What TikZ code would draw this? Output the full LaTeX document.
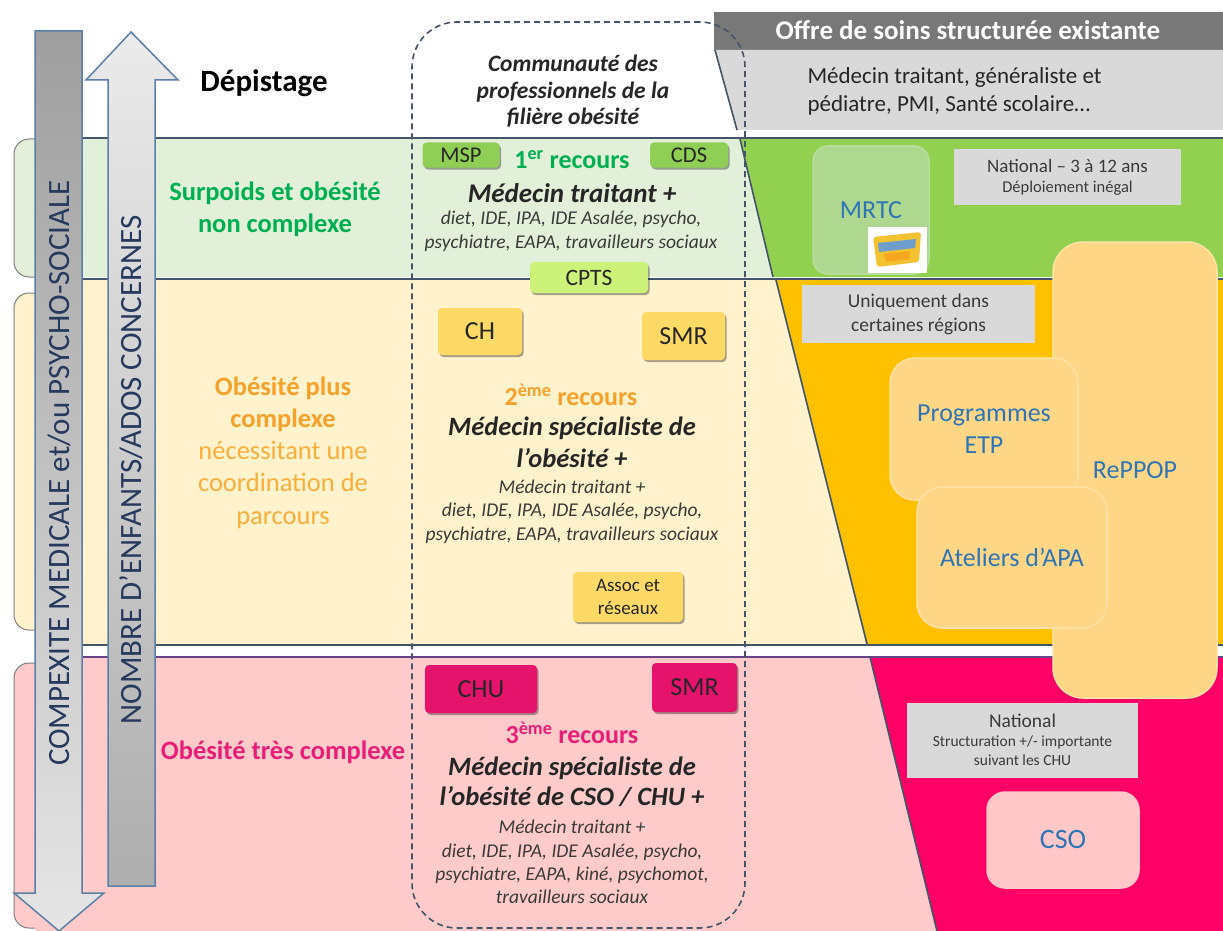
\documentclass[tikz,border=0pt]{standalone}
\usepackage{fontspec}
\setmainfont{Carlito}
\usetikzlibrary{shadows}
\definecolor{hdr}{HTML}{787878}
\definecolor{infogray}{HTML}{D9D9D9}
\definecolor{txtdark}{HTML}{262626}
\definecolor{txtgray}{HTML}{3A3A3A}
\definecolor{lgreen}{HTML}{E2F0D9}
\definecolor{lyellow}{HTML}{FFF2CC}
\definecolor{lpink}{HTML}{FFCACA}
\definecolor{dgreen}{HTML}{92D050}
\definecolor{dyellow}{HTML}{FFC000}
\definecolor{dpink}{HTML}{FF0066}
\definecolor{bandcol}{HTML}{44546A}
\definecolor{tabcol}{HTML}{7F7F7F}
\definecolor{mspgreen}{HTML}{8FCF55}
\definecolor{cptsgreen}{HTML}{CCF27A}
\definecolor{gold}{HTML}{FFD966}
\definecolor{chupink}{HTML}{E5136C}
\definecolor{tblue}{HTML}{2E75B6}
\definecolor{mrtcfill}{HTML}{AED88F}
\definecolor{mrtcdraw}{HTML}{B9DE9E}
\definecolor{softor}{HTML}{FFD685}
\definecolor{softordraw}{HTML}{FFE2A6}
\definecolor{csofill}{HTML}{FFC7C7}
\definecolor{tgreen}{HTML}{00B050}
\definecolor{torange}{HTML}{F6A12B}
\definecolor{torangelight}{HTML}{F8AE3C}
\definecolor{tmagenta}{HTML}{E91E78}
\definecolor{arrline}{HTML}{5B7FA6}
\definecolor{arrtxt}{HTML}{26395E}
\definecolor{logoyellow}{HTML}{F2C230}
\newcommand\myfs[2]{\fontsize{#1}{#2}\selectfont}
\begin{document}
\begin{tikzpicture}[x=1pt,y=-1pt,
  bandline/.style={draw=bandcol, line width=2pt},
  slantline/.style={draw=bandcol, line width=1.6pt},
  tabbox/.style={draw=tabcol, line width=1pt, rounded corners=15pt},
  btn/.style={rounded corners=4pt, inner sep=0pt, align=center, text=txtdark,
    drop shadow={shadow xshift=1.5pt, shadow yshift=-2pt, opacity=0.35, fill=black}},
  greenbtn/.style={btn, fill=mspgreen, font=\myfs{22.5}{24}},
  cptsbtn/.style={btn, fill=cptsgreen, font=\myfs{23.5}{24}},
  goldbtn/.style={btn, fill=gold, font=\myfs{26}{26}},
  pinkbtn/.style={btn, fill=chupink, font=\myfs{26}{26}},
  infobox/.style={fill=infogray, inner sep=0pt, align=center, text=txtgray},
  softbox/.style={inner sep=0pt, align=center, text=tblue, font=\myfs{26}{32}, line width=1.5pt},
  recours/.style={font=\myfs{26}{28}\bfseries},
  medtxt/.style={font=\myfs{26.5}{32}\bfseries\itshape, align=center, text=txtdark},
  proftxt/.style={font=\myfs{19.5}{23.4}\itshape, align=center, text=txtgray},
  bandlabel/.style={font=\myfs{26.5}{32.25}, align=center},
  arrowtext/.style={rotate=90, font=\myfs{31}{31}, text=arrtxt},
  dashbox/.style={draw=bandcol, line width=1.6pt, dash pattern=on 6pt off 4pt, rounded corners=45pt, inner sep=0pt}
]
\useasboundingbox (0,0) rectangle (1223,931);
\fill[white] (0,0) rectangle (1223,931);

% ---- right column header
\fill[hdr] (714,12) rectangle (1223,50);
\node[font=\myfs{27}{28}\bfseries, text=white] (hdrtxt) at (968,30) {Offre de soins structurée existante};
\fill[infogray] (715,50) -- (1223,50) -- (1223,130) -- (737,130) -- cycle;
\draw[slantline] (715,50) -- (737,130);
\node[anchor=west, align=left, font=\myfs{23}{28}, text=txtdark] (topoffer) at (804,91) {Médecin traitant, généraliste et\\pédiatre, PMI, Santé scolaire…};

% ---- right coloured regions
\fill[dgreen] (740,139) -- (1223,139) -- (1223,277) -- (773,277) -- cycle;
\fill[dyellow] (776,280) -- (1223,280) -- (1223,644) -- (867,644) -- cycle;
\fill[dpink] (870,657) -- (1223,657) -- (1223,931) -- (937,931) -- cycle;

% ---- light bands
\filldraw[tabbox, fill=lgreen] (14,139) rectangle (70,277);
\fill[lgreen] (35,139) -- (740,139) -- (773,277) -- (35,277) -- cycle;
\filldraw[tabbox, fill=lyellow] (14,293) rectangle (70,630);
\fill[lyellow] (35,280) -- (776,280) -- (867,644) -- (35,644) -- cycle;
\filldraw[tabbox, fill=lpink] (14,663) rectangle (70,928);
\fill[lpink] (35,657) -- (870,657) -- (937,931) -- (35,931) -- cycle;

% ---- band separators
\draw[bandline] (35,138.5) -- (1223,138.5);
\draw[bandline] (35,278.5) -- (1223,278.5);
\draw[bandline] (35,644.5) -- (1223,644.5);
\draw[bandline, draw=bandcol!80!magenta] (35,656.5) -- (1223,656.5);
\draw[slantline] (740,139) -- (773,277);
\draw[slantline] (776,280) -- (867,644);
\draw[slantline] (870,657) -- (937,931);

% ---- right column boxes
\node[softbox, fill=mrtcfill, draw=mrtcdraw, rounded corners=15pt, minimum width=116, minimum height=128] (mrtc) at (871,210) {MRTC};
\node[fill=white, inner sep=0pt, minimum width=59, minimum height=46] (logo) at (897.5,249.5) {};
\fill[logoyellow, rounded corners=3pt] (873,237) -- (921,232) -- (919,262) -- (877,267) -- cycle;
\fill[tblue!70] (878,243) -- (916,239) -- (915,248) -- (879,252) -- cycle;
\fill[logoyellow!60!orange] (884,254) -- (910,251) -- (909,259) -- (886,262) -- cycle;
\node[infobox, minimum width=227, minimum height=56, font=\myfs{16.5}{20}] (nat1) at (1067.5,177) {{\myfs{19}{20}National – 3 à 12 ans}\\Déploiement inégal};
\node[softbox, fill=softor, draw=softordraw, rounded corners=30pt, minimum width=164, minimum height=456] (reppop) at (1135,470) {RePPOP};
\node[infobox, minimum width=233, minimum height=58, font=\myfs{19.5}{24}] (uniq) at (918.5,314) {Uniquement dans\\certaines régions};
\node[softbox, fill=softor, draw=softordraw, rounded corners=25pt, minimum width=188, minimum height=142] (etp) at (984,429) {Programmes\\ETP};
\node[softbox, fill=softor, draw=softordraw, rounded corners=25pt, minimum width=190, minimum height=141] (apa) at (1012,557.5) {Ateliers d’APA};
\node[infobox, minimum width=231, minimum height=75, font=\myfs{15.5}{19}] (nat2) at (1022.5,740) {{\myfs{19.5}{20}National}\\Structuration +/- importante\\suivant les CHU};
\node[softbox, fill=csofill, draw=csofill, rounded corners=18pt, minimum width=152, minimum height=96, font=\myfs{28}{30}] (cso) at (1063,840) {CSO};

% ---- community dashed box
\node[dashbox, minimum width=333, minimum height=906] (community) at (578.5,475) {};
\node[font=\myfs{23.5}{26.5}\bfseries\itshape, align=center, text=txtdark] (commtxt) at (573,91.5) {Communauté des\\professionnels de la\\filière obésité};

% 1er recours
\node[greenbtn, minimum width=77, minimum height=25] (msp) at (461,155) {MSP};
\node[greenbtn, minimum width=78, minimum height=25] (cds) at (689,155) {CDS};
\node[recours, text=tgreen] (rec1) at (572,160) {1\textsuperscript{er} recours};
\node[medtxt, font=\myfs{27}{30}\bfseries\itshape] (med1) at (572,193) {Médecin traitant +};
\node[proftxt] (prof1) at (571,231.5) {diet, IDE, IPA, IDE Asalée, psycho,\\psychiatre, EAPA, travailleurs sociaux};
\node[cptsbtn, minimum width=118, minimum height=31] (cpts) at (589,277.5) {CPTS};

% 2eme recours
\node[goldbtn, minimum width=84, minimum height=47] (ch) at (480,331.5) {CH};
\node[goldbtn, minimum width=83, minimum height=48] (smr1) at (683.5,336) {SMR};
\node[recours, text=torange] (rec2) at (571,395) {2\textsuperscript{ème} recours};
\node[medtxt] (med2) at (572,442) {Médecin spécialiste de\\l’obésité +};
\node[proftxt] (prof2) at (572,511.5) {Médecin traitant +\\diet, IDE, IPA, IDE Asalée, psycho,\\psychiatre, EAPA, travailleurs sociaux};
\node[goldbtn, minimum width=110, minimum height=50, font=\myfs{19}{23}] (assoc) at (628,597) {Assoc et\\réseaux};

% 3eme recours
\node[pinkbtn, minimum width=112, minimum height=48] (chu) at (481,689) {CHU};
\node[pinkbtn, minimum width=85, minimum height=49] (smr2) at (694.5,687.5) {SMR};
\node[recours, text=tmagenta] (rec3) at (572,733) {3\textsuperscript{ème} recours};
\node[medtxt, font=\myfs{26.5}{30}\bfseries\itshape] (med3) at (572,782) {Médecin spécialiste de\\l’obésité de CSO / CHU +};
\node[proftxt] (prof3) at (572,862) {Médecin traitant +\\diet, IDE, IPA, IDE Asalée, psycho,\\psychiatre, EAPA, kiné, psychomot,\\travailleurs sociaux};

% ---- left labels
\node[font=\myfs{31}{32}\bfseries, text=black] (dep) at (264,83) {Dépistage};
\node[bandlabel, text=tgreen, font=\myfs{26.5}{32}\bfseries] (lab1) at (275,209) {Surpoids et obésité\\non complexe};
\node[bandlabel, text=torangelight] (lab2) at (283,452.5) {\textcolor{torange}{\textbf{Obésité plus}}\\\textcolor{torange}{\textbf{complexe}}\\nécessitant une\\coordination de\\parcours};
\node[bandlabel, text=tmagenta, font=\myfs{26.5}{30}\bfseries] (lab3) at (283,752) {Obésité très complexe};

% ---- arrows
\shade[top color=black!38, bottom color=black!10, draw=arrline, line width=1.5pt]
  (35,31) -- (82,31) -- (82,893) -- (104,893) -- (59,931) -- (14,893) -- (35,893) -- cycle;
\shade[top color=black!8, bottom color=black!32, draw=arrline, line width=1.5pt]
  (131,32) -- (178,80) -- (155,80) -- (155,886) -- (108,886) -- (108,80) -- (86,80) -- cycle;
\node[arrowtext] (arrA) at (59,473) {COMPEXITE MEDICALE et/ou PSYCHO-SOCIALE};
\node[arrowtext] (arrB) at (131,470) {NOMBRE D’ENFANTS/ADOS CONCERNES};
\end{tikzpicture}
\end{document}
